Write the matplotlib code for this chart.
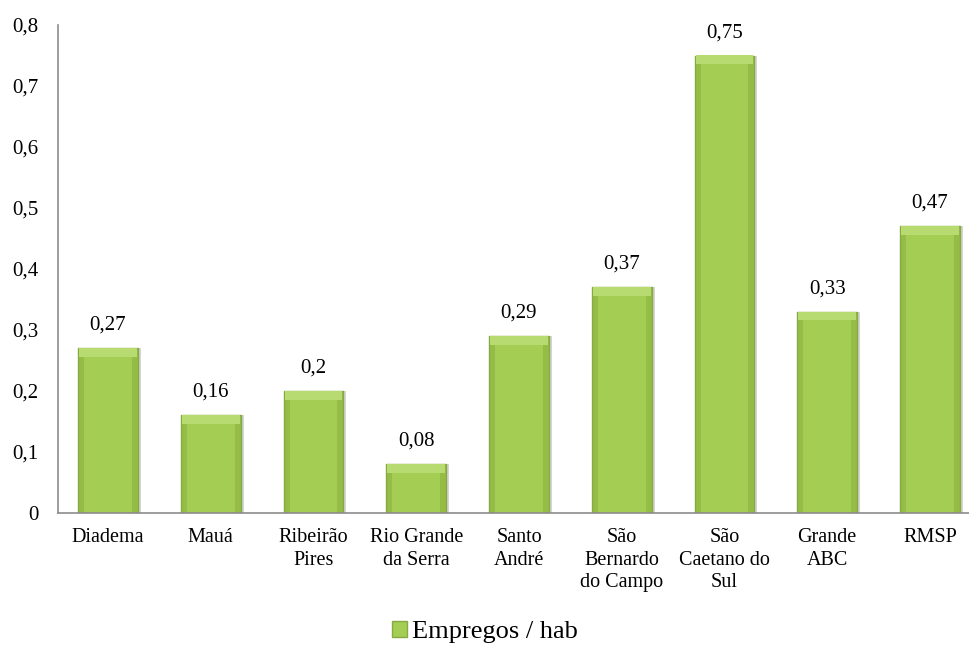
import matplotlib.pyplot as plt
from matplotlib.patches import Patch

plt.rcParams['font.family'] = ['Liberation Serif', 'DejaVu Serif']

categorias = ['Diadema', 'Mauá', 'Ribeirão\nPires', 'Rio Grande\nda Serra', 'Santo\nAndré',
              'São\nBernardo\ndo Campo', 'São\nCaetano do\nSul', 'Grande\nABC', 'RMSP']
valores = [0.27, 0.16, 0.2, 0.08, 0.29, 0.37, 0.75, 0.33, 0.47]
rotulos = ['0,27', '0,16', '0,2', '0,08', '0,29', '0,37', '0,75', '0,33', '0,47']
yticks = [0, 0.1, 0.2, 0.3, 0.4, 0.5, 0.6, 0.7, 0.8]
ytick_labels = ['0', '0,1', '0,2', '0,3', '0,4', '0,5', '0,6', '0,7', '0,8']

fig = plt.figure(figsize=(9.7, 6.46), dpi=100)
ax = fig.add_axes([58/970, 1 - 513/646, (970 - 58)/970, (513 - 25)/646])

x = list(range(len(categorias)))
largura = 0.58
# sombra
ax.bar([i + 0.03 for i in x], valores, width=largura, color='#d4d4d4', zorder=1)
ax.bar(x, valores, width=largura, color='#94bc46', edgecolor='#86a942', linewidth=1.0, zorder=2)
ax.bar(x, valores, width=largura * 0.8, color='#a4cd54', linewidth=0, zorder=2.5)
# faixa clara (bisel) no topo
ax.bar(x, [0.014] * len(x), bottom=[v - 0.014 for v in valores], width=largura * 0.97,
       color='#b7db70', linewidth=0, zorder=3)

for i, v in enumerate(valores):
    ax.text(i, v + 0.022, rotulos[i], ha='center', va='bottom', fontsize=15)

ax.set_xlim(-0.487, 8.39)
ax.set_ylim(0, 0.8)
ax.set_yticks(yticks)
ax.set_yticklabels(ytick_labels, fontsize=15)
ax.set_xticks(x)
ax.set_xticklabels(categorias, fontsize=14.5, va='top', linespacing=1.25)
ax.tick_params(axis='both', length=0)
ax.tick_params(axis='y', pad=14)
ax.tick_params(axis='x', pad=11)
for s in ['top', 'right']:
    ax.spines[s].set_visible(False)
ax.spines['left'].set_color('#8c8c8c')
ax.spines['bottom'].set_color('#8c8c8c')
ax.spines['left'].set_linewidth(1.2)
ax.spines['bottom'].set_linewidth(1.2)

fig.legend(handles=[Patch(facecolor='#a4cd54', edgecolor='#86a942', label='Empregos / hab')],
           loc='center', bbox_to_anchor=(0.5, 1 - 632/646), frameon=False, fontsize=19,
           handlelength=0.55, handleheight=0.55, handletextpad=0.2)

fig.savefig('out.png', dpi=100)
